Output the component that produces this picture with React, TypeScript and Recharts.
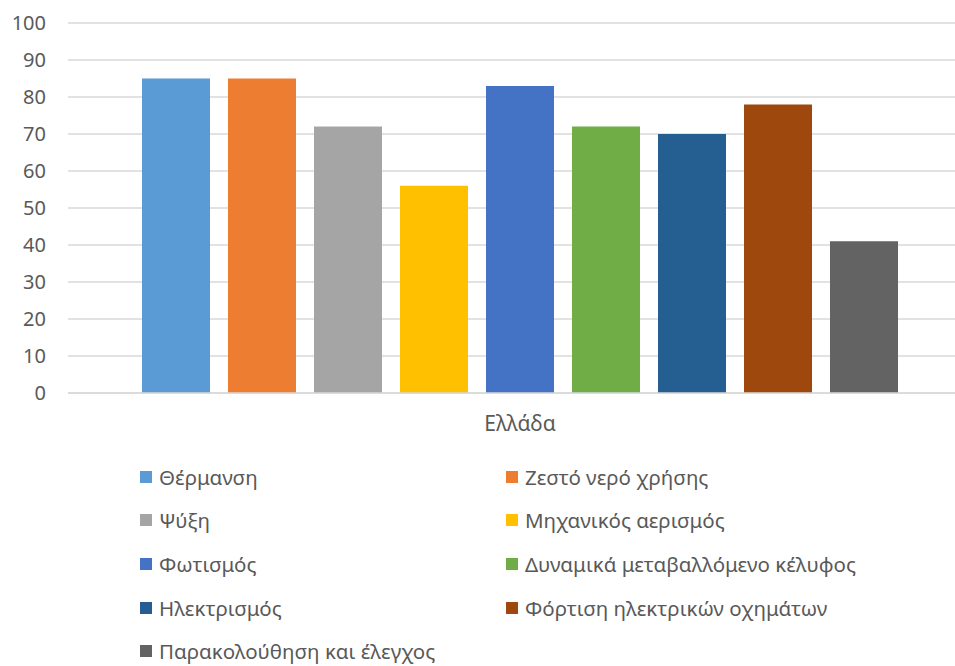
import React from 'react';
import { BarChart, Bar, XAxis, YAxis, CartesianGrid, Legend } from 'recharts';

const country = 'Ελλάδα';

const seriesNames = [
  'Θέρμανση',
  'Ζεστό νερό χρήσης',
  'Ψύξη',
  'Μηχανικός αερισμός',
  'Φωτισμός',
  'Δυναμικά μεταβαλλόμενο κέλυφος',
  'Ηλεκτρισμός',
  'Φόρτιση ηλεκτρικών οχημάτων',
  'Παρακολούθηση και έλεγχος',
];

const seriesValues = [85, 85, 72, 56, 83, 72, 70, 78, 41];

const seriesColors = [
  '#5B9BD5',
  '#ED7D31',
  '#A5A5A5',
  '#FFC000',
  '#4472C4',
  '#70AD47',
  '#255E91',
  '#9E480E',
  '#636363',
];

const yTicks = [0, 10, 20, 30, 40, 50, 60, 70, 80, 90, 100];

const data = [
  seriesNames.reduce<Record<string, string | number>>(
    (row, name, i) => {
      row[name] = seriesValues[i];
      return row;
    },
    { country }
  ),
];

const FONT = '"Noto Sans", sans-serif';
const TEXT = '#595959';

function renderLegend(props: any) {
  // keep series order instead of recharts' alphabetical sort
  const payload = [...(props.payload || [])].sort(
    (a: any, b: any) => seriesNames.indexOf(a.value) - seriesNames.indexOf(b.value)
  );
  return (
    <div
      style={{
        display: 'grid',
        gridTemplateColumns: '366px 1fr',
        gridAutoRows: '43.6px',
        paddingLeft: 140,
        height: 218,
        boxSizing: 'border-box',
        fontFamily: FONT,
        fontSize: 20.5,
        color: TEXT,
      }}
    >
      {payload.map((entry: any) => (
        <div key={entry.value} style={{ display: 'flex', alignItems: 'center', whiteSpace: 'nowrap' }}>
          <span
            style={{
              display: 'inline-block',
              width: 12,
              height: 12,
              background: entry.color,
              marginRight: 7,
            }}
          />
          <span>{entry.value}</span>
        </div>
      ))}
    </div>
  );
}

export default function App() {
  return (
    <div
      style={{
        position: 'fixed',
        left: 0,
        top: 0,
        width: 955,
        height: 666,
        overflow: 'hidden',
        background: '#fff',
      }}
    >
      <BarChart
        width={972}
        height={673}
        data={data}
        margin={{ top: 23, right: 0, bottom: 0, left: 0 }}
        barSize={68}
        barGap={18}
      >
        <CartesianGrid vertical={false} stroke="#D9D9D9" strokeWidth={1.5} />
        <XAxis
          dataKey="country"
          height={62}
          axisLine={{ stroke: '#D9D9D9', strokeWidth: 1.5 }}
          tickLine={false}
          tickSize={0}
          tickMargin={23}
          tick={{ fill: TEXT, fontSize: 21, fontFamily: FONT }}
        />
        <YAxis
          width={68}
          domain={[0, 100]}
          ticks={yTicks}
          axisLine={false}
          tickLine={false}
          tickSize={0}
          tickMargin={22}
          tick={{ fill: TEXT, fontSize: 20, fontFamily: FONT }}
        />
        <Legend verticalAlign="bottom" align="left" content={renderLegend} />
        {seriesNames.map((name, i) => (
          <Bar key={name} dataKey={name} fill={seriesColors[i]} isAnimationActive={false} />
        ))}
      </BarChart>
    </div>
  );
}
